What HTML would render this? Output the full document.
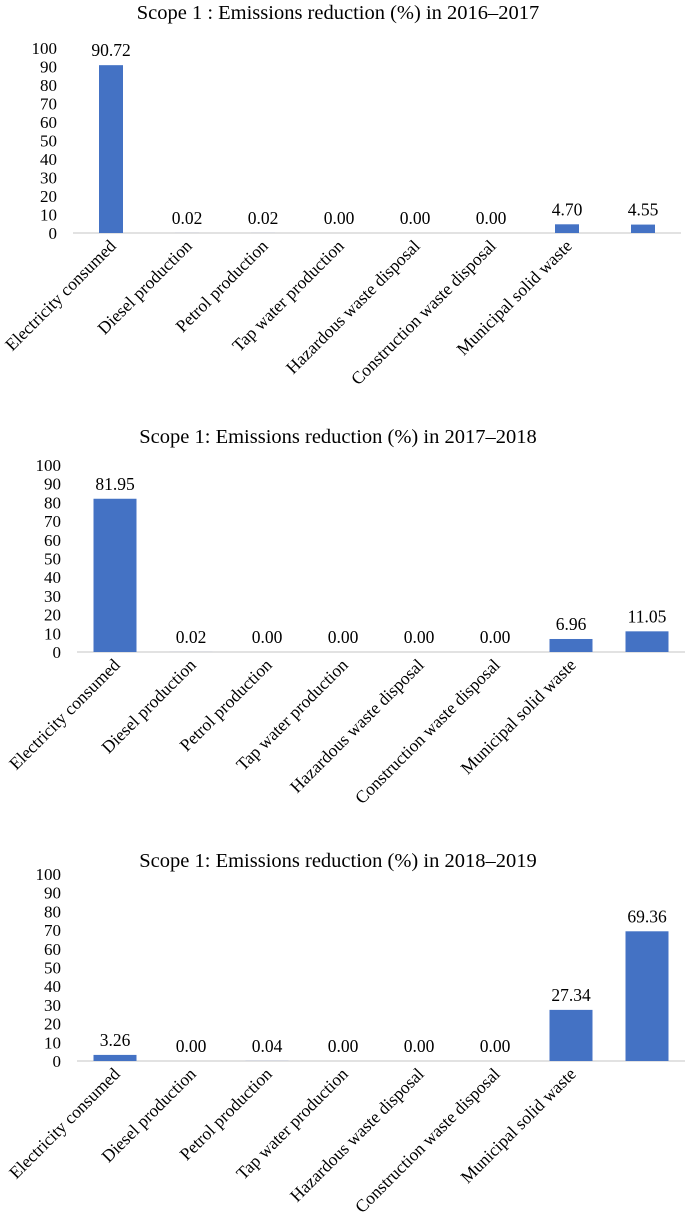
<!DOCTYPE html>
<html><head><meta charset="utf-8"><style>
html,body{margin:0;padding:0;background:#fff;}
svg{display:block;font-family:"Liberation Serif",serif;}
</style></head><body>
<svg id="root" width="685" height="1222" viewBox="0 0 685 1222"></svg>
<script>
const categories = ["Electricity consumed","Diesel production","Petrol production","Tap water production","Hazardous waste disposal","Construction waste disposal","Municipal solid waste",""];
const values2016 = [90.72,0.02,0.02,0.00,0.00,0.00,4.70,4.55];
const values2017 = [81.95,0.02,0.00,0.00,0.00,0.00,6.96,11.05];
const values2018 = [3.26,0.00,0.04,0.00,0.00,0.00,27.34,69.36];
const tickLabels = [0,10,20,30,40,50,60,70,80,90,100];
const titles = ["Scope 1 : Emissions reduction (%) in 2016–2017","Scope 1: Emissions reduction (%) in 2017–2018","Scope 1: Emissions reduction (%) in 2018–2019"];
const NS="http://www.w3.org/2000/svg";
const root=document.getElementById('root');
function mk(tag,attrs,parent){const e=document.createElementNS(NS,tag);for(const k in attrs)e.setAttribute(k,attrs[k]);parent.appendChild(e);return e;}
const layouts=[
 {titleY:19,top:48,base:233,x0:73,bw:24,tickR:57,name:'chart-2016-2017'},
 {titleY:443,top:465,base:652,x0:77,bw:43,tickR:61,name:'chart-2017-2018'},
 {titleY:867,top:874,base:1061,x0:77,bw:43,tickR:61,name:'chart-2018-2019'}
];
const series=[values2016,values2017,values2018];
layouts.forEach((L,ci)=>{
  const g=mk('g',{},root);
  
  
  const step=76;
  const yScale=v=>L.base-(v/100)*(L.base-L.top);
  const xCenter=i=>L.x0+step*(i+0.5);
  const t=mk('text',{x:338,y:L.titleY,'text-anchor':'middle','font-size':'20.5'},g);
  t.textContent=titles[ci];
  
  
  tickLabels.forEach(v=>{
    const tl=mk('text',{x:L.tickR,y:yScale(v)+6,'text-anchor':'end','font-size':'17'},g);
    tl.textContent=v;
    
    
  });
  const ax=mk('line',{x1:L.x0,x2:L.x0+step*8,y1:L.base,y2:L.base,stroke:'#d9d9d9','stroke-width':'1.5'},g);
  
  
  series[ci].forEach((v,i)=>{
    const y=yScale(v);
    const r=mk('rect',{x:xCenter(i)-L.bw/2,y:y,width:L.bw,height:Math.max(0,L.base-y),fill:'#4472c4'},g);
    
    
    const vl=mk('text',{x:xCenter(i),y:y-9,'text-anchor':'middle','font-size':'17.5'},g);
    vl.textContent=v.toFixed(2);
    
    
    if(categories[i]){
      const cx=xCenter(i)+6, cy=L.base+14;
      const cl=mk('text',{x:cx,y:cy,'text-anchor':'end','font-size':'17.5',transform:'rotate(-45 '+cx+' '+cy+')'},g);
      cl.textContent=categories[i];
      
      
    }
  });
});
</script>
</body></html>
